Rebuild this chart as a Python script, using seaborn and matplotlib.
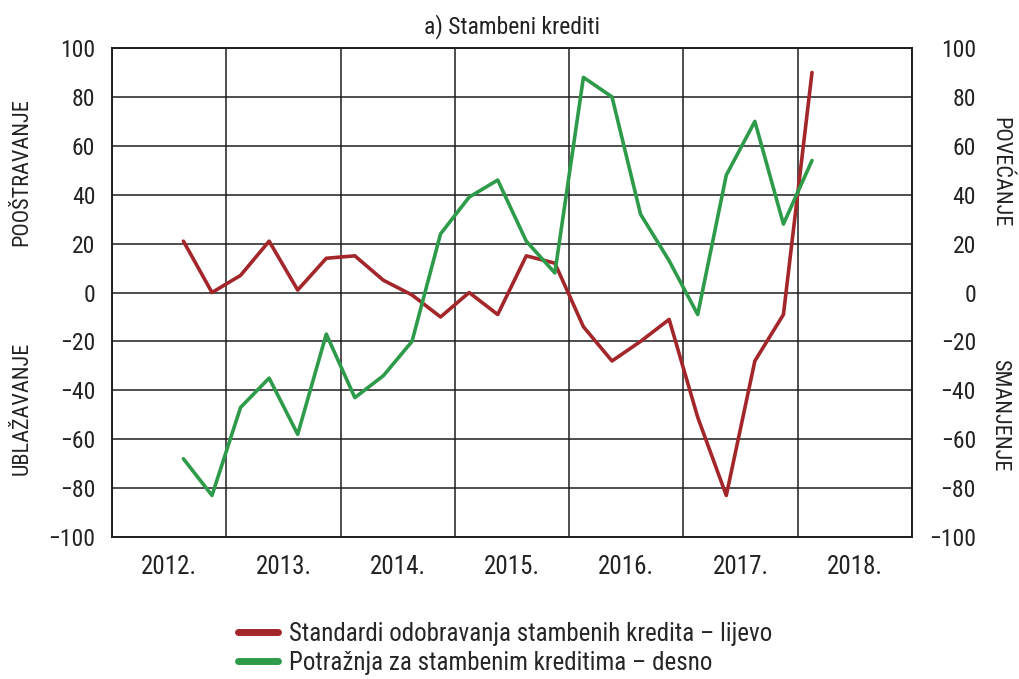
import numpy as np
import pandas as pd
import seaborn as sns
import matplotlib
matplotlib.use("Agg")
import matplotlib.pyplot as plt
from matplotlib import font_manager as fm
from matplotlib.lines import Line2D

# ---------------- data ----------------
quarters = ["2012Q3", "2012Q4",
            "2013Q1", "2013Q2", "2013Q3", "2013Q4",
            "2014Q1", "2014Q2", "2014Q3", "2014Q4",
            "2015Q1", "2015Q2", "2015Q3", "2015Q4",
            "2016Q1", "2016Q2", "2016Q3", "2016Q4",
            "2017Q1", "2017Q2", "2017Q3", "2017Q4",
            "2018Q1"]
standardi = [21, 0, 7, 21, 1, 14, 15, 5, -1, -10, 0, -9, 15, 12,
             -14, -28, -20, -11, -51, -83, -28, -9, 90]
potraznja = [-68, -83, -47, -35, -58, -17, -43, -34, -20, 24, 39, 46, 21, 8,
             88, 80, 32, 13, -9, 48, 70, 28, 54]
years = [2012, 2013, 2014, 2015, 2016, 2017, 2018]
year_labels = ["2012.", "2013.", "2014.", "2015.", "2016.", "2017.", "2018."]
y_ticks = [-100, -80, -60, -40, -20, 0, 20, 40, 60, 80, 100]
title = "a) Stambeni krediti"
label_red = "Standardi odobravanja stambenih kredita – lijevo"
label_green = "Potražnja za stambenim kreditima – desno"

# ---------------- style ----------------
sns.set_theme(style="white")
names = {f.name for f in fm.fontManager.ttflist}
fam = [f for f in ["Liberation Sans Narrow", "Roboto Condensed", "Liberation Sans"] if f in names]
fam.append("DejaVu Sans")
plt.rcParams['font.family'] = fam

RED = "#a3262b"
GREEN = "#2e9b4a"
GRID = "#1e1e1e"
TXT = "#222222"
FS_TICK = 17
FS_BIG = 18


def fmt(v):
    return str(v).replace("-", "\u2212")


df = pd.DataFrame({
    "q": quarters,
    "standardi": standardi,
    "potraznja": potraznja,
})
df["x"] = df["q"].str[:4].astype(int) + (df["q"].str[-1].astype(int) - 0.5) / 4

fig = plt.figure(figsize=(10.19, 6.79), dpi=100)
ax = fig.add_axes([0.1099, 0.2091, 0.7851, 0.7202])

sns.lineplot(data=df, x="x", y="standardi", ax=ax, color=RED, lw=2.6,
             legend=False, zorder=3)
ax2 = ax.twinx()
sns.lineplot(data=df, x="x", y="potraznja", ax=ax2, color=GREEN, lw=2.6,
             legend=False, zorder=3)

for a in (ax, ax2):
    a.set_xlim(years[0], years[-1] + 1)
    a.set_ylim(-100, 100)
    a.set_yticks(y_ticks)
    a.set_xlabel("")
    a.set_ylabel("")
    for s in a.spines.values():
        s.set_color(GRID)
        s.set_linewidth(1.2)

ax.set_xticks(years + [years[-1] + 1])
ax.set_xticklabels([])
ax.set_xticks([y + 0.5 for y in years], minor=True)
ax.set_xticklabels(year_labels, minor=True, fontsize=FS_BIG, color=TXT)
ax.tick_params(axis="x", which="both", length=0, pad=13)
ax.grid(True, which="major", color=GRID, lw=1.1)
ax.set_axisbelow(True)

ax.set_yticklabels([fmt(v) for v in y_ticks], fontsize=FS_TICK, color=TXT)
ax.tick_params(axis="y", length=0, pad=12)

ax2.set_yticklabels([fmt(v) for v in y_ticks], fontsize=FS_TICK, color=TXT)
ax2.tick_params(axis="y", length=0, pad=46)
for t in ax2.get_yticklabels():
    t.set_horizontalalignment("right")
ax2.grid(False)

# axis side labels
fig.text(22 / 1019, 1 - 172 / 679, "POOŠTRAVANJE", rotation=90, ha="center",
         va="center", fontsize=FS_TICK - 1, color=TXT)
fig.text(22 / 1019, 1 - 408 / 679, "UBLAŽAVANJE", rotation=90, ha="center",
         va="center", fontsize=FS_TICK - 1, color=TXT)
fig.text(1000 / 1019, 1 - 172 / 679, "POVEĆANJE", rotation=-90, ha="center",
         va="center", fontsize=FS_TICK - 1, color=TXT)
fig.text(1000 / 1019, 1 - 415 / 679, "SMANJENJE", rotation=-90, ha="center",
         va="center", fontsize=FS_TICK - 1, color=TXT)

fig.text(512 / 1019, 1 - 27 / 679, title, ha="center", va="center",
         fontsize=FS_TICK, color=TXT)

handles = [Line2D([], [], color=RED, lw=5), Line2D([], [], color=GREEN, lw=5)]
fig.legend(handles, [label_red, label_green], loc="upper left",
           bbox_to_anchor=(238 / 1019, 1 - 622 / 679), frameon=False,
           fontsize=FS_BIG, handlelength=1.6, handletextpad=0.45, labelspacing=0.2,
           borderaxespad=0, borderpad=0)

fig.savefig("out.png", dpi=100)
